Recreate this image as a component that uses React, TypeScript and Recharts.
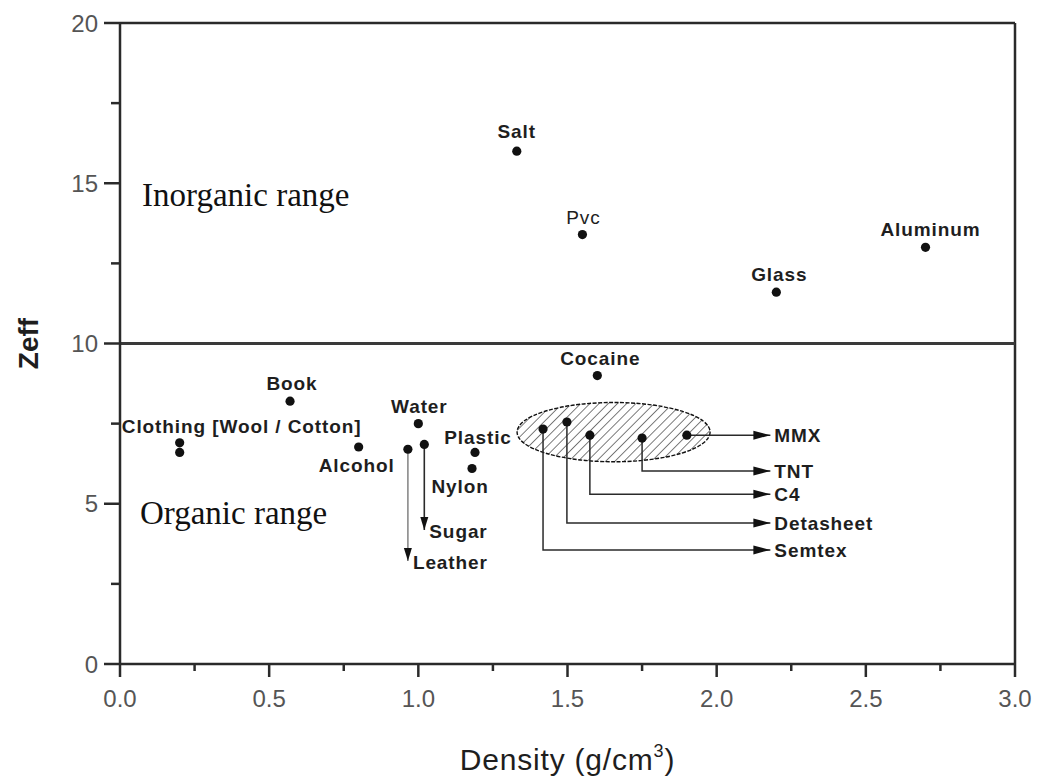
import React from 'react';
import {
  ScatterChart,
  Scatter,
  XAxis,
  YAxis,
  ReferenceLine,
  ReferenceArea,
  ReferenceDot,
} from 'recharts';

// ---------------- data ----------------
const materialNames = [
  'Salt', 'Pvc', 'Aluminum', 'Glass', 'Cocaine', 'Book',
  'Clothing (Wool)', 'Clothing (Cotton)', 'Alcohol', 'Water',
  'Plastic', 'Nylon', 'Sugar', 'Leather',
];
const materialDensity = [1.33, 1.55, 2.7, 2.2, 1.6, 0.57, 0.2, 0.2, 0.8, 1.0, 1.19, 1.18, 1.02, 0.965];
const materialZeff = [16.0, 13.4, 13.0, 11.6, 9.0, 8.2, 6.9, 6.6, 6.77, 7.5, 6.6, 6.1, 6.85, 6.7];
const materialLabels = [
  'Salt', 'Pvc', 'Aluminum', 'Glass', 'Cocaine', 'Book',
  'Clothing [Wool / Cotton]', '', 'Alcohol', 'Water',
  'Plastic', 'Nylon', '', '',
];

const explosiveNames = ['Semtex', 'Detasheet', 'C4', 'TNT', 'MMX'];
const explosiveDensity = [1.418, 1.498, 1.575, 1.75, 1.9];
const explosiveZeff = [7.33, 7.55, 7.14, 7.05, 7.14];
const explosiveLabelZeff = [3.56, 4.4, 5.3, 6.02, 7.14];
const explosiveLabelDensity = 2.18;

const pointerNames = ['Sugar', 'Leather'];
const pointerDensity = [1.02, 0.965];
const pointerFromZeff = [6.85, 6.7];
const pointerToZeff = [4.18, 3.21];

const explosiveRegionDensity = [1.331, 1.978];
const explosiveRegionZeff = [6.31, 8.16];

const zoneNames = ['Inorganic range', 'Organic range'];
const zoneDensity = [0.074, 0.067];
const zoneZeff = [14.3, 4.37];

const boundaryZeff = 10;

const xTicks = [0, 0.25, 0.5, 0.75, 1, 1.25, 1.5, 1.75, 2, 2.25, 2.5, 2.75, 3];
const yTicks = [0, 2.5, 5, 7.5, 10, 12.5, 15, 17.5, 20];

// ---------------- styling / layout (not data) ----------------
const INK = '#1e1e1e';
const AXIS = '#2a2a2a';
const TICK_TEXT = '#555';
const SANS = '"Liberation Sans", Arial, sans-serif';
const SERIF = '"Liberation Serif", "Times New Roman", serif';

const labelPlacement: Record<string, { dx: number; dy: number; weight?: string }> = {
  Salt: { dx: 0, dy: -13 },
  Pvc: { dx: 1, dy: -11, weight: 'normal' },
  Aluminum: { dx: 5, dy: -11 },
  Glass: { dx: 3, dy: -11 },
  Cocaine: { dx: 3, dy: -11 },
  Book: { dx: 2, dy: -11 },
  'Clothing (Wool)': { dx: 62, dy: -10 },
  Alcohol: { dx: -2, dy: 25 },
  Water: { dx: 1, dy: -11 },
  Plastic: { dx: 3, dy: -8 },
  Nylon: { dx: -12, dy: 25 },
};

const labelStyle = {
  fontFamily: SANS,
  fontSize: 19,
  fontWeight: 'bold' as const,
  letterSpacing: 0.9,
  fill: INK,
};

// ---------------- derived series ----------------
const materialPoints = materialNames.map((name, i) => ({
  name,
  x: materialDensity[i],
  y: materialZeff[i],
  label: materialLabels[i],
}));
const explosivePoints = explosiveNames.map((name, i) => ({
  name,
  x: explosiveDensity[i],
  y: explosiveZeff[i],
  label: '',
}));
const allPoints = [...materialPoints, ...explosivePoints];

const explosiveLeaders = explosiveNames.map((name, i) => [
  { x: explosiveDensity[i], y: explosiveZeff[i] },
  { x: explosiveDensity[i], y: explosiveLabelZeff[i] },
  { x: explosiveLabelDensity, y: explosiveLabelZeff[i], tip: 'right', label: name },
]);

const pointerLeaders = pointerNames.map((name, i) => [
  { x: pointerDensity[i], y: pointerFromZeff[i] },
  { x: pointerDensity[i], y: pointerToZeff[i], tip: 'down', label: name },
]);

// ---------------- render helpers ----------------
const PointShape = (props: any) => {
  const { cx, cy, payload } = props;
  const place = labelPlacement[payload.name];
  return (
    <g>
      <circle cx={cx} cy={cy} r={4.6} fill="#111" />
      {payload.label && place ? (
        <text
          x={cx + place.dx}
          y={cy + place.dy}
          textAnchor="middle"
          {...labelStyle}
          fontWeight={place.weight || 'bold'}
        >
          {payload.label}
        </text>
      ) : null}
    </g>
  );
};

const ArrowTip = (props: any) => {
  const { cx, cy, payload } = props;
  if (!payload || !payload.tip) return <g />;
  if (payload.tip === 'right') {
    return (
      <g>
        <path d={`M${cx},${cy} L${cx - 17},${cy - 4.5} L${cx - 17},${cy + 4.5} Z`} fill="#111" />
        <text x={cx + 4} y={cy + 7} textAnchor="start" {...labelStyle}>
          {payload.label}
        </text>
      </g>
    );
  }
  return (
    <g>
      <path d={`M${cx},${cy} L${cx - 4},${cy - 13} L${cx + 4},${cy - 13} Z`} fill="#111" />
      <text x={cx + 5} y={cy + 8} textAnchor="start" {...labelStyle}>
        {payload.label}
      </text>
    </g>
  );
};

const XTick = (props: any) => {
  const { x, y, payload } = props;
  const v = payload.value as number;
  const major = Math.abs(v * 2 - Math.round(v * 2)) < 1e-6;
  return (
    <g>
      <line x1={x} x2={x} y1={y} y2={y + (major ? 13 : 7)} stroke={AXIS} strokeWidth={2.5} />
      {major ? (
        <text x={x} y={y + 43} textAnchor="middle" fill={TICK_TEXT} fontSize={24} fontFamily={SANS}>
          {v.toFixed(1)}
        </text>
      ) : null}
    </g>
  );
};

const YTick = (props: any) => {
  const { x, y, payload } = props;
  const v = payload.value as number;
  const major = Math.abs(v / 5 - Math.round(v / 5)) < 1e-6;
  return (
    <g>
      <line x1={x - (major ? 16 : 9)} x2={x} y1={y} y2={y} stroke={AXIS} strokeWidth={2.5} />
      {major ? (
        <text x={x - 22} y={y} dy="0.36em" textAnchor="end" fill={TICK_TEXT} fontSize={24} fontFamily={SANS}>
          {String(v)}
        </text>
      ) : null}
    </g>
  );
};

const XTitle = (props: any) => {
  const vb = props.viewBox || { x: 120, y: 664, width: 895, height: 114 };
  return (
    <text
      x={vb.x + vb.width / 2}
      y={vb.y + 106}
      textAnchor="middle"
      fontSize={30}
      letterSpacing={0.8}
      fontFamily={SANS}
      fill={INK}
    >
      Density (g/cm
      <tspan dy={-13} fontSize={18}>3</tspan>
      <tspan dy={13}>)</tspan>
    </text>
  );
};

const YTitle = (props: any) => {
  const vb = props.viewBox || { x: 0, y: 23, width: 120, height: 641 };
  const cy = vb.y + vb.height / 2;
  return (
    <text
      x={38}
      y={cy}
      transform={`rotate(-90 38 ${cy})`}
      textAnchor="middle"
      fontSize={28}
      fontWeight="bold"
      fontFamily={SANS}
      fill={INK}
    >
      Zeff
    </text>
  );
};

const HatchedEllipse = (props: any) => {
  const { x, y, width, height } = props;
  return (
    <g>
      <defs>
        <pattern id="hatch" width="6.5" height="6.5" patternUnits="userSpaceOnUse" patternTransform="rotate(45)">
          <line x1="0" y1="0" x2="0" y2="6.5" stroke="#111" strokeWidth="1.1" />
        </pattern>
      </defs>
      <ellipse
        cx={x + width / 2}
        cy={y + height / 2}
        rx={width / 2}
        ry={height / 2}
        fill="url(#hatch)"
        stroke="#111"
        strokeWidth={1.4}
        strokeDasharray="4 1.5"
      />
    </g>
  );
};

const ZoneText = (name: string) => (props: any) => (
  <text x={props.cx} y={props.cy} textAnchor="start" fontFamily={SERIF} fontSize={33} fill="#111">
    {name}
  </text>
);

export default function App() {
  return (
    <div>
      <style>{'body{margin:0;background:#fff;}'}</style>
      <ScatterChart width={1042} height={778} margin={{ top: 23, right: 27, bottom: 0, left: 0 }}>
        <XAxis
          type="number"
          dataKey="x"
          domain={[0, 3]}
          ticks={xTicks}
          interval={0}
          tickSize={0}
          tickMargin={0}
          tickLine={false}
          axisLine={{ stroke: AXIS, strokeWidth: 2.5 }}
          tick={XTick}
          height={114}
          label={XTitle}
          allowDataOverflow
        />
        <YAxis
          type="number"
          dataKey="y"
          domain={[0, 20]}
          ticks={yTicks}
          interval={0}
          tickSize={0}
          tickMargin={0}
          tickLine={false}
          axisLine={{ stroke: AXIS, strokeWidth: 2.5 }}
          tick={YTick}
          width={120}
          label={YTitle}
          allowDataOverflow
        />
        <ReferenceArea
          x1={explosiveRegionDensity[0]}
          x2={explosiveRegionDensity[1]}
          y1={explosiveRegionZeff[0]}
          y2={explosiveRegionZeff[1]}
          shape={HatchedEllipse}
        />
        <ReferenceLine y={20} stroke={AXIS} strokeWidth={2.5} />
        <ReferenceLine x={3} stroke={AXIS} strokeWidth={2.5} />
        <ReferenceLine y={boundaryZeff} stroke="#3a3a3a" strokeWidth={3} />
        {zoneNames.map((name, i) => (
          <ReferenceDot key={name} x={zoneDensity[i]} y={zoneZeff[i]} r={0} shape={ZoneText(name)} />
        ))}
        {explosiveLeaders.map((pts, i) => (
          <Scatter
            key={`lead-${i}`}
            data={pts}
            line={{ stroke: '#2a2a2a', strokeWidth: 1.5 }}
            shape={ArrowTip}
            isAnimationActive={false}
          />
        ))}
        {pointerLeaders.map((pts, i) => (
          <Scatter
            key={`ptr-${i}`}
            data={pts}
            line={{ stroke: i === 1 ? '#8a8a8a' : '#2a2a2a', strokeWidth: 1.6 }}
            shape={ArrowTip}
            isAnimationActive={false}
          />
        ))}
        <Scatter data={allPoints} shape={PointShape} isAnimationActive={false} />
      </ScatterChart>
    </div>
  );
}
